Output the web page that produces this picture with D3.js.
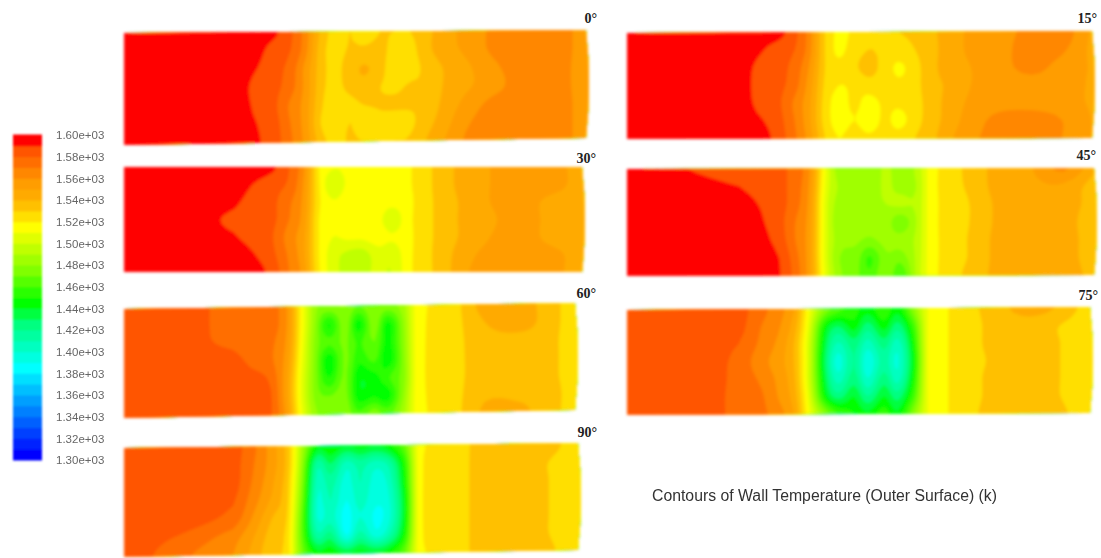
<!DOCTYPE html>
<html>
<head>
<meta charset="utf-8">
<script src="https://cdnjs.cloudflare.com/ajax/libs/d3/7.8.5/d3.min.js"></script>
<style>
  html, body { margin: 0; padding: 0; background: #fff; }
  svg { display: block; }
</style>
</head>
<body>
<svg id="chart"></svg>
<script>
const width = 1101;
const height = 558;

// colour legend
const legendTicks = [1600, 1580, 1560, 1540, 1520, 1500, 1480, 1460, 1440, 1420, 1400, 1380, 1360, 1340, 1320, 1300];
const legendLabels = ["1.60e+03", "1.58e+03", "1.56e+03", "1.54e+03", "1.52e+03", "1.50e+03", "1.48e+03", "1.46e+03",
    "1.44e+03", "1.42e+03", "1.40e+03", "1.38e+03", "1.36e+03", "1.34e+03", "1.32e+03", "1.30e+03"];
const colourValues = [1300, 1305, 1385, 1405, 1425, 1445, 1475, 1495, 1515, 1527, 1535, 1545, 1558, 1570, 1585, 1595, 1600];
const colourNames = ["#0000d8", "#0000ff", "#00ffff", "#00ffc0", "#00ff80", "#00ff00", "#80ff00", "#c0ff00", "#ffff00",
    "#ffd800", "#ffc000", "#ffaa00", "#ff9900", "#ff7a00", "#ff5500", "#ff0000", "#ff0000"];

// sample columns along the wall, as share of the wall length
const columnShares = [0, .13, .24, .28, .325, .36, .39, .425, .455, .49, .52, .555, .585, .62, .65, .695, .74, .80, .87, .935, 1.015];

// wall temperature (7 rows, top to bottom)
const temp0 = [
    [1596,1596,1596,1595,1592,1582,1566,1538,1527,1530,1524,1530,1530,1530,1536,1546,1553,1562,1566,1566,1552],
    [1596,1596,1596,1594,1586,1580,1565,1535,1527,1531,1532,1533,1526,1526,1536,1546,1552,1562,1566,1566,1552],
    [1596,1596,1596,1591,1584,1576,1558,1535,1527,1535,1541,1534,1522,1525,1532,1541,1548,1558,1566,1565,1552],
    [1596,1596,1596,1588,1583,1574,1558,1534,1527,1533,1536,1530,1528,1531,1532,1541,1548,1556,1566,1565,1552],
    [1596,1596,1596,1589,1582,1568,1556,1532,1525,1527,1530,1531,1531,1531,1532,1543,1553,1563,1566,1566,1552],
    [1596,1596,1596,1591,1584,1570,1556,1530,1525,1530,1523,1527,1527,1528,1535,1546,1558,1566,1566,1566,1552],
    [1596,1596,1596,1592,1585,1572,1558,1535,1527,1531,1530,1530,1530,1531,1539,1550,1561,1566,1566,1566,1552]
];
const temp15 = [
    [1596,1596,1596,1596,1594,1583,1566,1530,1518,1522,1528,1528,1530,1532,1537,1545,1552,1556,1563,1566,1545],
    [1596,1596,1596,1592,1585,1580,1565,1530,1518,1525,1530,1528,1526,1530,1536,1545,1552,1556,1565,1562,1545],
    [1596,1596,1596,1588,1584,1576,1560,1530,1522,1528,1534,1525,1518,1526,1536,1545,1550,1556,1563,1556,1548],
    [1596,1596,1596,1587,1583,1574,1556,1528,1520,1522,1525,1526,1522,1526,1536,1542,1550,1554,1556,1554,1548],
    [1596,1596,1596,1588,1582,1568,1553,1526,1516,1522,1516,1522,1522,1526,1534,1544,1552,1556,1556,1554,1548],
    [1596,1596,1596,1592,1584,1570,1553,1526,1516,1520,1514,1522,1516,1526,1534,1545,1555,1563,1565,1560,1548],
    [1596,1596,1596,1596,1586,1572,1556,1530,1520,1525,1522,1525,1525,1530,1536,1548,1558,1563,1565,1560,1548]
];
const temp30 = [
    [1596,1596,1596,1596,1592,1580,1563,1520,1511,1512,1514,1515,1516,1518,1526,1534,1544,1550,1556,1556,1540],
    [1596,1596,1596,1590,1584,1578,1560,1521,1503,1512,1514,1515,1516,1518,1526,1534,1544,1550,1556,1556,1540],
    [1596,1596,1592,1586,1582,1572,1558,1522,1511,1515,1517,1516,1513,1516,1526,1533,1542,1550,1556,1545,1540],
    [1596,1596,1588,1585,1582,1570,1556,1520,1511,1515,1515,1513,1503,1516,1526,1533,1542,1548,1556,1545,1540],
    [1596,1596,1591,1586,1580,1565,1553,1520,1510,1512,1512,1515,1511,1516,1526,1533,1542,1550,1556,1545,1540],
    [1596,1596,1596,1591,1582,1568,1553,1520,1505,1497,1495,1505,1503,1516,1526,1534,1546,1553,1556,1554,1540],
    [1596,1596,1596,1595,1586,1570,1556,1521,1505,1495,1497,1502,1500,1516,1526,1534,1548,1554,1556,1554,1540]
];
const temp45 = [
    [1596,1590,1584,1583,1582,1576,1560,1510,1484,1490,1482,1492,1484,1492,1515,1526,1534,1545,1550,1562,1538],
    [1596,1595,1590,1586,1583,1575,1558,1508,1488,1485,1483,1492,1486,1490,1515,1526,1533,1545,1548,1548,1533],
    [1596,1596,1595,1590,1584,1574,1556,1505,1485,1488,1487,1490,1492,1492,1515,1525,1531,1543,1546,1546,1533],
    [1596,1596,1596,1592,1584,1570,1554,1505,1482,1485,1484,1485,1472,1490,1515,1525,1531,1543,1546,1545,1530],
    [1596,1596,1596,1594,1586,1570,1553,1505,1484,1482,1478,1484,1484,1492,1515,1525,1532,1544,1546,1546,1530],
    [1596,1596,1596,1596,1590,1574,1553,1505,1480,1475,1458,1478,1474,1492,1515,1525,1532,1544,1546,1546,1530],
    [1596,1596,1596,1596,1591,1576,1554,1508,1482,1473,1462,1480,1460,1492,1515,1526,1534,1544,1546,1548,1532]
];
const temp60 = [
    [1586,1586,1575,1575,1575,1560,1520,1482,1478,1480,1470,1480,1476,1486,1515,1522,1528,1545,1546,1536,1522],
    [1586,1586,1575,1575,1575,1560,1520,1478,1448,1476,1444,1476,1446,1480,1515,1522,1528,1540,1546,1536,1522],
    [1586,1584,1578,1575,1572,1558,1518,1476,1462,1472,1458,1470,1446,1478,1515,1522,1528,1536,1536,1534,1522],
    [1586,1586,1584,1578,1572,1555,1515,1474,1442,1472,1452,1462,1442,1476,1515,1522,1528,1535,1535,1534,1522],
    [1586,1586,1586,1584,1578,1552,1512,1474,1450,1472,1442,1446,1458,1476,1515,1522,1528,1535,1535,1534,1522],
    [1586,1586,1586,1586,1581,1552,1512,1476,1470,1474,1444,1448,1444,1480,1515,1522,1528,1538,1538,1536,1522],
    [1586,1586,1586,1586,1581,1556,1515,1482,1476,1478,1462,1476,1466,1486,1515,1522,1528,1542,1542,1536,1522]
];
const temp75 = [
    [1586,1586,1585,1575,1565,1550,1515,1480,1465,1455,1445,1458,1445,1480,1510,1520,1527,1536,1545,1538,1522],
    [1586,1586,1584,1572,1562,1545,1510,1450,1430,1445,1425,1445,1425,1460,1510,1520,1526,1534,1535,1530,1522],
    [1586,1586,1580,1570,1558,1540,1505,1440,1408,1425,1405,1425,1405,1450,1510,1520,1526,1534,1535,1530,1522],
    [1586,1586,1578,1566,1555,1540,1505,1435,1395,1420,1392,1415,1398,1445,1510,1520,1526,1532,1532,1530,1522],
    [1586,1586,1578,1570,1558,1542,1505,1440,1405,1425,1400,1425,1405,1450,1510,1520,1526,1534,1535,1530,1522],
    [1586,1586,1578,1574,1560,1545,1510,1450,1425,1440,1420,1440,1425,1460,1510,1520,1526,1534,1535,1530,1522],
    [1586,1586,1578,1574,1565,1550,1515,1480,1460,1450,1442,1455,1442,1478,1510,1520,1527,1536,1538,1532,1522]
];
const temp90 = [
    [1586,1586,1584,1574,1555,1535,1490,1445,1450,1440,1445,1440,1448,1470,1515,1522,1527,1535,1538,1535,1520],
    [1586,1586,1584,1572,1555,1535,1485,1415,1430,1405,1415,1405,1415,1455,1515,1522,1527,1535,1535,1530,1520],
    [1586,1586,1584,1570,1552,1532,1480,1405,1415,1395,1410,1395,1405,1450,1515,1522,1527,1535,1535,1530,1520],
    [1586,1586,1581,1566,1548,1530,1475,1400,1410,1390,1405,1392,1400,1445,1515,1522,1527,1535,1535,1530,1520],
    [1586,1585,1576,1560,1540,1528,1470,1400,1405,1385,1400,1388,1398,1445,1515,1522,1527,1535,1535,1530,1520],
    [1586,1578,1565,1552,1535,1525,1470,1415,1425,1390,1415,1395,1412,1452,1515,1522,1527,1535,1535,1530,1520],
    [1586,1572,1560,1548,1532,1525,1475,1445,1448,1438,1445,1440,1448,1470,1515,1522,1527,1535,1535,1532,1520]
];

// where each plot sits on the page
const panels = [
    { label: "0°",  grid: temp0,  x0: 124, x1: 586,  topL: 33,  topR: 30,  botL: 145, botR: 138, labelX: 597,  labelY: 23 },
    { label: "15°", grid: temp15, x0: 627, x1: 1092, topL: 33,  topR: 31,  botL: 139, botR: 138, labelX: 1097, labelY: 23 },
    { label: "30°", grid: temp30, x0: 124, x1: 582,  topL: 167, topR: 167, botL: 272, botR: 272, labelX: 596,  labelY: 163 },
    { label: "45°", grid: temp45, x0: 627, x1: 1094, topL: 169, topR: 168, botL: 276, botR: 275, labelX: 1096, labelY: 160 },
    { label: "60°", grid: temp60, x0: 124, x1: 575,  topL: 309, topR: 303, botL: 418, botR: 410, labelX: 596,  labelY: 298 },
    { label: "75°", grid: temp75, x0: 627, x1: 1090, topL: 310, topR: 307, botL: 415, botR: 413, labelX: 1098, labelY: 300 },
    { label: "90°", grid: temp90, x0: 124, x1: 578,  topL: 448, topR: 443, botL: 557, botR: 550, labelX: 597,  labelY: 437 }
];

const thresholds = d3.range(1300, 1600, 10);
const colour = d3.scaleLinear().domain(colourValues).range(colourNames).clamp(true);
const refine = 4;

// Catmull-Rom between samples so the contour lines come out round
function catmull(a, b, c, d, t) {
    return 0.5 * (2 * b + (c - a) * t + (2 * a - 5 * b + 4 * c - d) * t * t + (3 * b - a - 3 * c + d) * t * t * t);
}

function refineLine(line) {
    const out = [];
    const n = line.length;
    for (let i = 0; i < n - 1; i++) {
        for (let k = 0; k < refine; k++) {
            out.push(catmull(line[Math.max(i - 1, 0)], line[i], line[i + 1], line[Math.min(i + 2, n - 1)], k / refine));
        }
    }
    out.push(line[n - 1]);
    return out;
}

function refineGrid(grid) {
    const across = grid.map(refineLine);
    const down = d3.transpose(d3.transpose(across).map(refineLine));
    return down;
}

const svg = d3.select("#chart").attr("width", width).attr("height", height);
const defs = svg.append("defs");
defs.append("filter").attr("id", "soft").attr("x", "-5%").attr("y", "-10%").attr("width", "110%").attr("height", "120%")
    .append("feGaussianBlur").attr("stdDeviation", 1.7);
defs.append("filter").attr("id", "softBar").attr("x", "-10%").attr("y", "-2%").attr("width", "120%").attr("height", "104%")
    .append("feGaussianBlur").attr("stdDeviation", 1);
defs.append("filter").attr("id", "softText")
    .append("feGaussianBlur").attr("stdDeviation", 0.5);

panels.forEach((p, i) => {
    const fine = refineGrid(p.grid);
    const rows = fine.length;
    const cols = fine[0].length;
    const shareX = d3.scaleLinear().domain(d3.range(p.grid[0].length)).range(columnShares).clamp(true);
    const shareY = d3.scaleLinear().domain([0, p.grid.length - 1]).range([0, 1]).clamp(true);
    const xPos = d3.scaleLinear().domain([0, 1]).range([p.x0, p.x1]);
    const topAt = d3.scaleLinear().domain([0, 1]).range([p.topL, p.topR]).clamp(true);
    const botAt = d3.scaleLinear().domain([0, 1]).range([p.botL, p.botR]).clamp(true);

    // contour coordinates have the sample centres at +0.5
    const path = d3.geoPath(d3.geoTransform({
        point(x, y) {
            const s = shareX((x - 0.5) / refine);
            const t = shareY((y - 0.5) / refine);
            this.stream.point(xPos(s), topAt(s) + (botAt(s) - topAt(s)) * t);
        }
    }));

    const outline = d3.path();
    outline.moveTo(p.x0, p.topL);
    outline.lineTo(p.x1, p.topR);
    outline.quadraticCurveTo(p.x1 + 6, (p.topR + p.botR) / 2, p.x1, p.botR);
    outline.lineTo(p.x0, p.botL);
    outline.closePath();

    defs.append("clipPath").attr("id", "wall" + i).append("path").attr("d", outline.toString());

    const contours = d3.contours().size([cols, rows]).thresholds(thresholds)(fine.flat());

    // blur sits outside the clip, so the wall edge goes soft as well
    const plot = svg.append("g").attr("filter", "url(#soft)")
        .append("g").attr("clip-path", "url(#wall" + i + ")");

    plot.selectAll("path.band")
        .data(contours)
        .enter().append("path")
        .attr("class", "band")
        .attr("d", path)
        .attr("fill", d => colour(d.value + 5))
        .attr("stroke", d => colour(d.value + 5))
        .attr("stroke-width", 0.6);

    svg.append("text")
        .attr("x", p.labelX).attr("y", p.labelY)
        .attr("text-anchor", "end")
        .attr("font-family", "Liberation Serif")
        .attr("font-weight", "bold")
        .attr("font-size", 14)
        .attr("fill", "#222")
        .text(p.label);
});

// colour bar
const legendY = d3.scaleLinear().domain([1300, 1600]).range([460, 135]);
const legend = svg.append("g");
legend.append("g").attr("filter", "url(#softBar)")
    .selectAll("rect")
    .data(thresholds)
    .enter().append("rect")
    .attr("x", 13)
    .attr("width", 29)
    .attr("y", d => legendY(d + 10) - 0.5)
    .attr("height", d => legendY(d) - legendY(d + 10) + 1)
    .attr("fill", d => colour(d + 5));

const legendAxis = d3.axisRight(legendY)
    .tickValues(legendTicks)
    .tickSize(0)
    .tickPadding(0)
    .tickFormat((d, i) => legendLabels[i]);

const axisG = legend.append("g")
    .attr("transform", "translate(56,0)")
    .call(legendAxis);
axisG.select(".domain").remove();
axisG.selectAll("text")
    .attr("font-family", "Liberation Sans")
    .attr("font-size", 11.5)
    .attr("fill", "#666")
    .attr("filter", "url(#softText)");

svg.append("text")
    .attr("x", 652).attr("y", 501)
    .attr("font-family", "Liberation Sans")
    .attr("font-size", 15.8)
    .attr("fill", "#333")
    .attr("filter", "url(#softText)")
    .text("Contours of Wall Temperature (Outer Surface) (k)");
</script>
</body>
</html>
